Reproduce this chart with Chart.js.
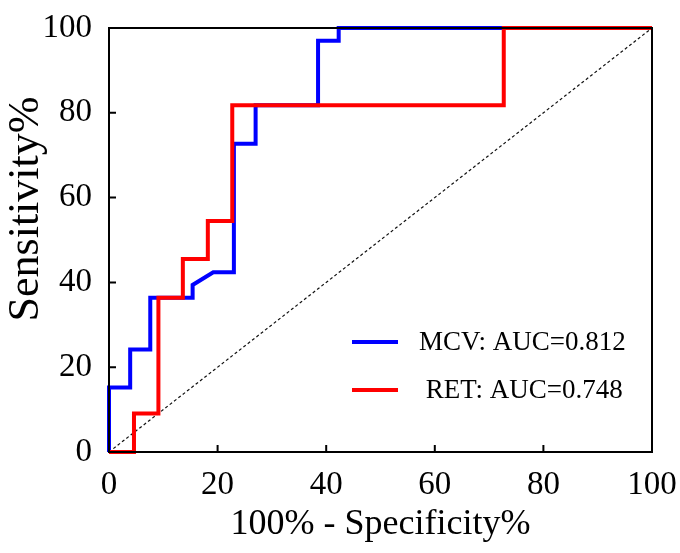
<!DOCTYPE html>
<html>
<head>
<meta charset="utf-8">
<script src="https://cdn.jsdelivr.net/npm/chart.js@4"></script>
<style>
  html, body { margin: 0; padding: 0; background: #ffffff; }
  #wrap { width: 680px; height: 553px; }
</style>
</head>
<body>
<div id="wrap"><canvas id="roc-chart" width="680" height="553"></canvas></div>
<script>
// ROC curve corner points (x = 100% - specificity, y = sensitivity)
const mcvX = [0, 0, 3.9, 3.9, 7.6, 7.6, 15.4, 15.4, 19.2, 23.0, 23.0, 27.0, 27.0, 38.5, 38.5, 42.3, 42.3, 100];
const mcvY = [0, 15.2, 15.2, 24.2, 24.2, 36.4, 36.4, 39.4, 42.4, 42.4, 72.7, 72.7, 81.8, 81.8, 97.0, 97.0, 100, 100];
const retX = [0, 4.6, 4.6, 9.1, 9.1, 13.6, 13.6, 18.2, 18.2, 22.7, 22.7, 72.7, 72.7, 100];
const retY = [0, 0, 9.1, 9.1, 36.4, 36.4, 45.5, 45.5, 54.5, 54.5, 81.8, 81.8, 100, 100];
const refX = [0, 100];
const refY = [0, 100];
const seriesLabels = ['MCV: AUC=0.812', ' RET: AUC=0.748'];
const tickValues = [0, 20, 40, 60, 80, 100];
const xTitle = '100% - Specificity%';
const yTitle = 'Sensitivity%';

const serif = '"Liberation Serif", "Times New Roman", serif';
const toPoints = (xs, ys) => xs.map((x, i) => ({ x: x, y: ys[i] }));

// frame box + inward tick marks + y title
const framePlugin = {
    id: 'frame',
    afterDraw(chart) {
        const ctx = chart.ctx;
        const a = chart.chartArea;
        const xs = chart.scales.x;
        const ys = chart.scales.y;
        ctx.save();
        ctx.strokeStyle = '#000000';
        ctx.lineWidth = 2;
        ctx.strokeRect(a.left, a.top, a.right - a.left, a.bottom - a.top);
        ctx.beginPath();
        tickValues.forEach(v => {
            const px = xs.getPixelForValue(v);
            ctx.moveTo(px, a.bottom);
            ctx.lineTo(px, a.bottom - 7);
            const py = ys.getPixelForValue(v);
            ctx.moveTo(a.left, py);
            ctx.lineTo(a.left + 7, py);
        });
        ctx.stroke();

        // y axis title sits a bit above the middle in the original
        ctx.translate(26, 209);
        ctx.rotate(-Math.PI / 2);
        ctx.font = '44px ' + serif;
        ctx.fillStyle = '#000000';
        ctx.textAlign = 'center';
        ctx.textBaseline = 'middle';
        ctx.fillText(yTitle, 0, 0);
        ctx.restore();
    }
};

// legend drawn inside the plot, lower right
const legendPlugin = {
    id: 'innerLegend',
    afterDraw(chart) {
        const ctx = chart.ctx;
        const rows = [{ ds: 0, y: 342 }, { ds: 1, y: 390 }];
        ctx.save();
        ctx.font = '27px ' + serif;
        ctx.textBaseline = 'middle';
        ctx.textAlign = 'left';
        rows.forEach(r => {
            const ds = chart.data.datasets[r.ds];
            ctx.strokeStyle = ds.borderColor;
            ctx.lineWidth = 4;
            ctx.beginPath();
            ctx.moveTo(352, r.y);
            ctx.lineTo(398, r.y);
            ctx.stroke();
            ctx.fillStyle = '#000000';
            ctx.fillText(ds.label, 419, r.y + 1);
        });
        ctx.restore();
    }
};

new Chart(document.getElementById('roc-chart').getContext('2d'), {
    type: 'scatter',
    data: {
        datasets: [
            {
                label: seriesLabels[0],
                data: toPoints(mcvX, mcvY),
                showLine: true,
                borderColor: '#0000ff',
                borderWidth: 4,
                pointRadius: 0,
                clip: 4,
                order: 1
            },
            {
                label: seriesLabels[1],
                data: toPoints(retX, retY),
                showLine: true,
                borderColor: '#ff0000',
                borderWidth: 4,
                pointRadius: 0,
                clip: 4,
                order: 0
            },
            {
                label: 'reference',
                data: toPoints(refX, refY),
                showLine: true,
                borderColor: '#111111',
                borderWidth: 1.2,
                borderDash: [3, 2.5],
                pointRadius: 0,
                order: 2
            }
        ]
    },
    options: {
        responsive: false,
        animation: false,
        layout: { padding: { top: 28, right: 28, left: 0, bottom: 0 } },
        scales: {
            x: {
                type: 'linear',
                min: 0,
                max: 100,
                afterFit: s => {
                    s.height = 101;
                    s.paddingLeft = 0;
                    s.paddingRight = 0;
                },
                afterBuildTicks: s => { s.ticks = tickValues.map(v => ({ value: v })); },
                grid: { display: false },
                border: { display: false },
                ticks: {
                    color: '#000000',
                    padding: 6,
                    font: { family: serif, size: 33 }
                },
                title: {
                    display: true,
                    text: xTitle,
                    color: '#000000',
                    padding: { top: 0, bottom: 7 },
                    font: { family: serif, size: 36 }
                }
            },
            y: {
                type: 'linear',
                min: 0,
                max: 100,
                afterFit: s => {
                    s.width = 109;
                    s.paddingTop = 0;
                    s.paddingBottom = 0;
                },
                afterBuildTicks: s => { s.ticks = tickValues.map(v => ({ value: v })); },
                grid: { display: false },
                border: { display: false },
                ticks: {
                    color: '#000000',
                    padding: 9,
                    font: { family: serif, size: 33 }
                },
                title: { display: false }
            }
        },
        plugins: {
            legend: { display: false },
            tooltip: { enabled: false }
        }
    },
    plugins: [framePlugin, legendPlugin]
});
</script>
</body>
</html>
